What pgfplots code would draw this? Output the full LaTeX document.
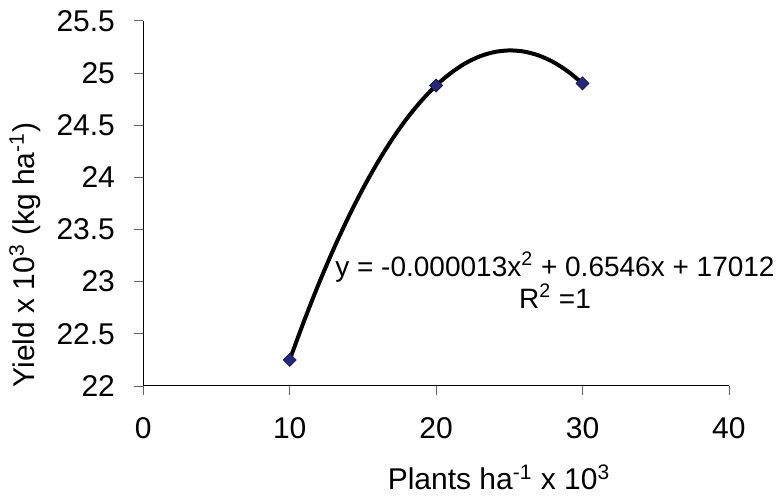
\documentclass[border=0pt]{standalone}
\usepackage{pgfplots}
\pgfplotsset{compat=1.18}
\usepackage{fontspec}
\setmainfont{Liberation Sans}

\definecolor{markfill}{RGB}{40,40,120}
\definecolor{markdraw}{RGB}{20,20,80}

\begin{document}
\begin{tikzpicture}
\fontsize{15}{17}\selectfont
\begin{axis}[
  at={(71.65pt,55.5pt)}, anchor=south west,
  scale only axis,
  width=292.8pt, height=182.6pt,
  xmin=0, xmax=40, ymin=22, ymax=25.5,
  xtick={0,10,20,30,40},
  ytick={22,22.5,23,23.5,24,24.5,25,25.5},
  axis lines*=left,
  axis line style={line width=0.5pt},
  tick align=outside,
  major tick length=4.5pt,
  tick style={line width=0.4pt, color=black!60},
  /pgf/number format/assume math mode=true,
  tick label style={font=\fontsize{15}{17}\selectfont},
  xticklabel style={yshift=-6pt},
  yticklabel style={xshift=-4.5pt},
  clip=false,
]
% quadratic trend line
\addplot[black, line width=2pt, smooth] coordinates {
  (10,22.250) (11,22.630) (12,22.985) (13,23.313) (14,23.615)
  (15,23.891) (16,24.141) (17,24.365) (18,24.563) (19,24.734)
  (20,24.880) (21,24.999) (22,25.093) (23,25.160) (24,25.201)
  (25,25.216) (26,25.205) (27,25.168) (28,25.105) (29,25.015)
  (30,24.900)
};
% observed yields
\addplot[only marks, mark=square*, mark size=2.3pt,
  mark options={rotate=45, fill=markfill, draw=markdraw, line width=0.3pt}] coordinates {
  (10,22.25) (20,24.88) (30,24.90)
};
% fitted equation, two centred lines (base anchor sits on the last line)
\node[anchor=base, align=center, font=\fontsize{14}{14.5}\selectfont]
  at (axis cs:28.12,22.745)
  {y = -0.000013x\textsuperscript{2} + 0.6546x + 17012\\R\textsuperscript{2} =1};
\end{axis}
\node[rotate=90, anchor=center] at (12.5pt,121pt)
  {Yield x 10\textsuperscript{3} (kg ha\textsuperscript{-1})};
\node[anchor=base] at (249.5pt,3.5pt)
  {Plants ha\textsuperscript{-1} x 10\textsuperscript{3}};
\pgfresetboundingbox
\path (0,0) rectangle (388pt,248.5pt);
\end{tikzpicture}
\end{document}
